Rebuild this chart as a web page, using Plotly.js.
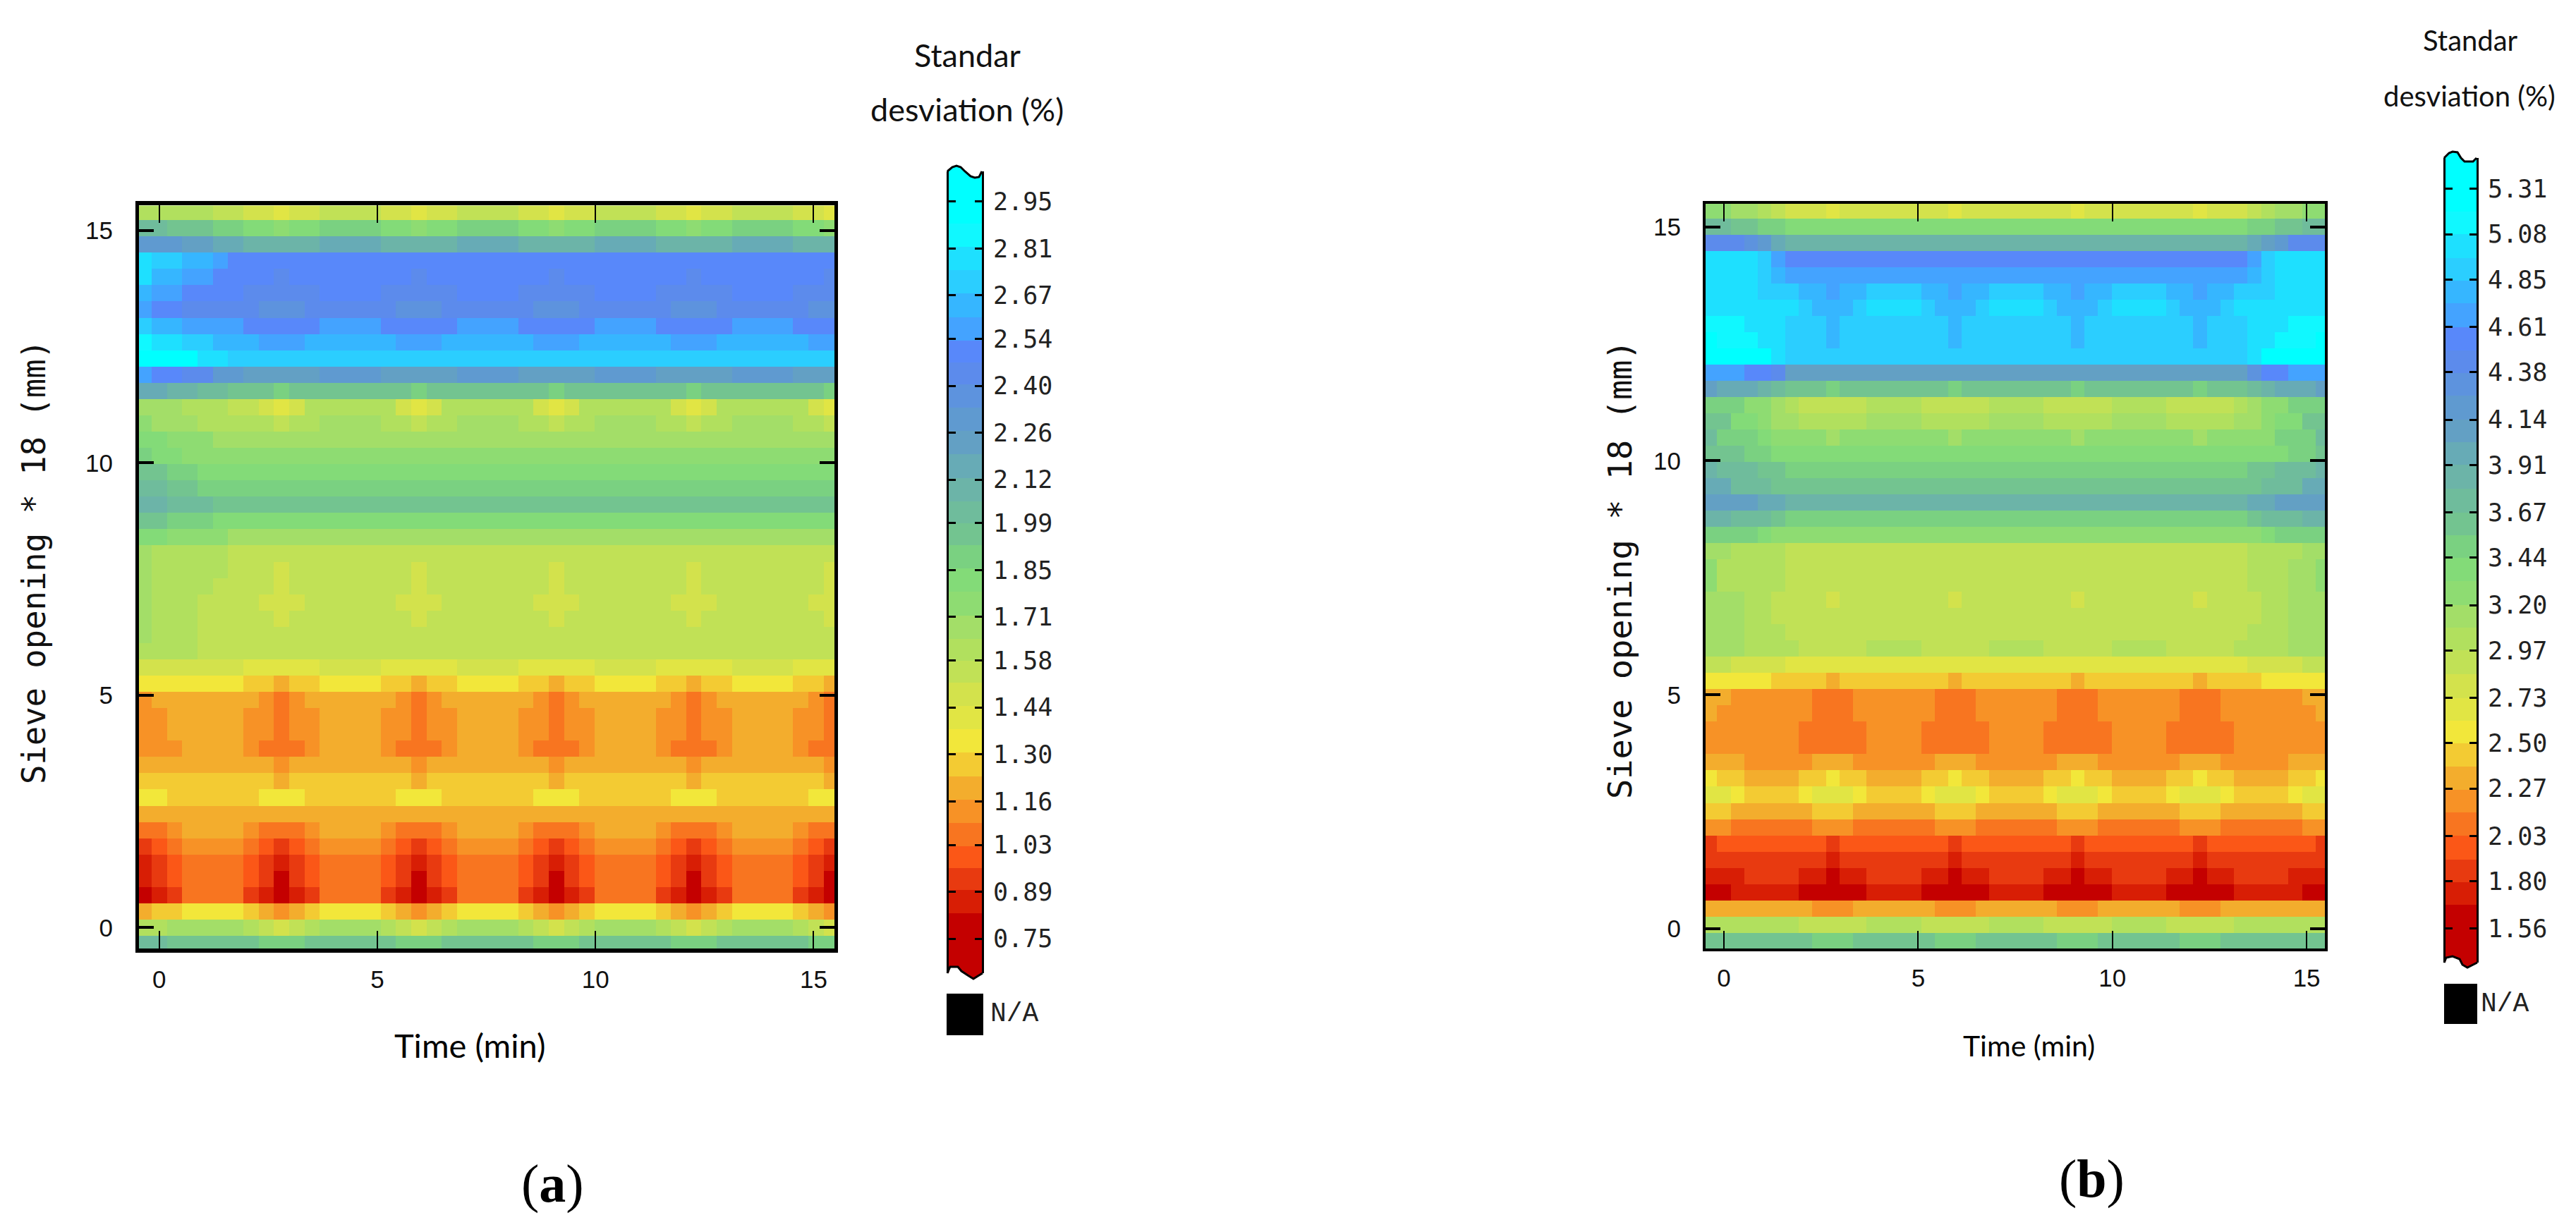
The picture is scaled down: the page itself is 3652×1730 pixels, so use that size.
<!DOCTYPE html>
<html>
<head>
<meta charset="utf-8">
<script src="https://cdn.plot.ly/plotly-3.0.1.min.js"></script>
<style>html,body{margin:0;padding:0;background:#fff}</style>
</head>
<body>
<div id="chart" style="width:3652px;height:1730px"></div>
<script>
// Colour bands of the scale, bottom to top (one letter per band in the grids below)
const bandKeys = "0123456789abcdefghijklmnopqrstuv";
const bandColors = ["#C40000","#D81E05","#E83A10","#FB5717","#F87520","#F79226","#F3AD2D","#F3CB33",
  "#F2E73A","#E1E544","#D3E24C","#C1E156","#B1E05E","#A3DE68","#8EDC72","#83DB78",
  "#7AD181","#73C490","#6FBC9C","#6CB4A8","#67ABB6","#63A0C4","#5F9AD0","#5D93DE",
  "#5C8BEC","#5888FA","#44A3FF","#36B6FF","#2BCEFF","#1EE0FF","#10F8FF","#00FFFF"];
// Standard deviation (%) at the middle of each band
const bandValuesA = [0.79,0.86,0.93,0.99,1.06,1.13,1.20,1.27,1.34,1.41,1.48,1.55,1.61,1.68,1.75,1.82,
  1.89,1.96,2.02,2.09,2.16,2.23,2.30,2.37,2.44,2.50,2.57,2.64,2.71,2.78,2.85,2.92];
const bandValuesB = [1.62,1.74,1.85,1.97,2.09,2.21,2.32,2.44,2.56,2.67,2.79,2.91,3.03,3.14,3.26,3.38,
  3.50,3.61,3.73,3.85,3.97,4.08,4.20,4.32,4.43,4.55,4.67,4.79,4.90,5.02,5.14,5.25];
const scaleTicksA = [0.75,0.89,1.03,1.16,1.30,1.44,1.58,1.71,1.85,1.99,2.12,2.26,2.40,2.54,2.67,2.81,2.95];
const scaleTicksB = [1.56,1.80,2.03,2.27,2.50,2.73,2.97,3.20,3.44,3.67,3.91,4.14,4.38,4.61,4.85,5.08,5.31];
const axisTicks = [0,5,10,15];

// Panel (a): one string per sieve row, top row first; one letter per time step
const gridA = [
"cccccbbaa9aabbbbaa9aabbbbaa9aabbbbaa9aabbbbaa9",
"iihhhggffeffggggffeffggggffeffggggffeffggggffe",
"mmmllkkjjjjjkkkkjjjjjkkkkjjjjjkkkkjjjjjkkkkjjj",
"tssrrqpppppppppppppppppppppppppppppppppppppppp",
"trrqqppppoppppppppoppppppppoppppppppoppppppppo",
"rqqppppoooooppppoooooppppoooooppppoooooppppooo",
"qppooooonnnoooooonnnoooooonnnoooooonnnoooooonn",
"srrqqqqpppppqqqqpppppqqqqpppppqqqqpppppqqqqppp",
"uttssrrrqqqrrrrrrqqqrrrrrrqqqrrrrrrqqqrrrrrrqq",
"vvvvttssssssssssssssssssssssssssssssssssssssss",
"qppoommlllllmmmmlllllmmmmlllllmmmmlllllmmmmlll",
"kkjjiihhhghhhhhhhhghhhhhhhhghhhhhhhhghhhhhhhhg",
"dddcccbba9acccccca9acccccca9acccccca9acccccca9",
"edddcccccbccddddccbccddddccbccddddccbccddddccb",
"ffeeeddddddddddddddddddddddddddddddddddddddddd",
"gffeeeeeeeeeeeeeeeeeeeeeeeeeeeeeeeeeeeeeeeeeee",
"hhggffffffffffffffffffffffffffffffffffffffffff",
"iihhgggggggggggggggggggggggggggggggggggggggggg",
"jjiiihhhhhhhhhhhhhhhhhhhhhhhhhhhhhhhhhhhhhhhhh",
"hhgggfffffffffffffffffffffffffffffffffffffffff",
"ffeeeedddddddddddddddddddddddddddddddddddddddd",
"dcccccbbbbbbbbbbbbbbbbbbbbbbbbbbbbbbbbbbbbbbbb",
"dcccccbbbabbbbbbbbabbbbbbbbabbbbbbbbabbbbbbbba",
"dccccbbbbabbbbbbbbabbbbbbbbabbbbbbbbabbbbbbbba",
"dcccbbbbaaabbbbbbaaabbbbbbaaabbbbbbaaabbbbbbaa",
"dcccbbbbbabbbbbbbbabbbbbbbbabbbbbbbbabbbbbbbba",
"dcccbbbbbbbbbbbbbbbbbbbbbbbbbbbbbbbbbbbbbbbbbb",
"ccccbbbbbbbbbbbbbbbbbbbbbbbbbbbbbbbbbbbbbbbbbb",
"aaaaaaa99999aaaa99999aaaa99999aaaa99999aaaa999",
"8888888776778888776778888776778888776778888776",
"5666666654566666654566666654566666654566666654",
"5566666554556666554556666554556666554556666554",
"5566666554556666554556666554556666554556666554",
"5556666544456666544456666544456666544456666544",
"6666666665666666665666666665666666665666666665",
"7777777776777777776777777776777777776777777776",
"8877777788877777788877777788877777788877777788",
"6666666666666666666666666666666666666666666666",
"4456666544456666544456666544456666544456666544",
"2345555432345555432345555432345555432345555432",
"1234444321234444321234444321234444321234444321",
"1234444320234444320234444320234444320234444320",
"0124444210124444210124444210124444210124444210",
"6778888765678888765678888765678888765678888765",
"ccdddddcbabcddddcbabcddddcbabcddddcbabcddddcba",
"iihhhhhhggghhhhhhggghhhhhhggghhhhhhggghhhhhhgg"
];

// Panel (b): same layout
const gridB = [
"eeddcbaaa9aaaaaaaa9aaaaaaaa9aaaaaaaa9aaabcddee",
"iihhggffffffffffffffffffffffffffffffffffgghhii",
"ooonmkjjjjjjjjjjjjjjjjjjjjjjjjjjjjjjjjjjklmooo",
"ttttsqppppppppppppppppppppppppppppppppppqstttt",
"ttttsrqqqqqqqqqqqqqqqqqqqqqqqqqqqqqqqqqqrstttt",
"ttttsssrrqrrssssrrqrrssssrrqrrssssrrqrrssstttt",
"tttttttsrrrsttttsrrrsttttsrrrsttttsrrrsttttttt",
"uuutttsssrssssssssrssssssssrssssssssrssstttuuu",
"vuuuttsssrssssssssrssssssssrssssssssrsssttuuuv",
"vvvvvtsssssssssssssssssssssssssssssssssstvvvvv",
"qqqppollllllllllllllllllllllllllllllllllnppqqq",
"lkkkjihhhghhhhhhhhghhhhhhhhghhhhhhhhghhhijkkkl",
"gggeedcbbbbbccccbbbbbccccbbbbbccccbbbbbcdeeggg",
"hhffeddcccccddddcccccddddcccccddddcccccddeffhh",
"igggfeeeedeeeeeeeedeeeeeeeedeeeeeeeedeeeeegggi",
"hhhggffffffffffffffffffffffffffffffffffffffggh",
"jiiihhgggggggggggggggggggggggggggggggggghhiiij",
"kkiiihhhhhhhhhhhhhhhhhhhhhhhhhhhhhhhhhhhhiiikk",
"llllkkjjjjjjjjjjjjjjjjjjjjjjjjjjjjjjjjjjkkllll",
"jjiiihgggggggggggggggggggggggggggggggggghiiijj",
"ggggfeeeeeeeeeeeeeeeeeeeeeeeeeeeeeeeeeeeefgggg",
"ddccccbbbbbbbbbbbbbbbbbbbbbbbbbbbbbbbbbbccccdd",
"ecccccbbbbbbbbbbbbbbbbbbbbbbbbbbbbbbbbbbcccdde",
"ecccccbbbbbbbbbbbbbbbbbbbbbbbbbbbbbbbbbbcccdde",
"dddccbbbbabbbbbbbbabbbbbbbbabbbbbbbbabbbbccddd",
"dddccbbbbbbbbbbbbbbbbbbbbbbbbbbbbbbbbbbbbccddd",
"dddcccbbbbbbbbbbbbbbbbbbbbbbbbbbbbbbbbbbcccddd",
"dddccccbbbbbccccbbbbbccccbbbbbccccbbbbbccccddd",
"bbaaaa9999999999999999999999999999999999aaaabb",
"8888877776777777776777777776777777776777788888",
"6655555544455555544455555544455555544455555566",
"6555555544455555544455555544455555544455555556",
"5555555444445555444445555444445555444445555555",
"5555555444445555444445555444445555444445555555",
"6665555566655555566655555566655555566655555666",
"8776666778776666778776666778776666778776666778",
"9987777899987777899987777899987777899987777899",
"7766666677766666677766666677766666677766666677",
"5544444455544444455544444455544444455544444455",
"2333333332333333332333333332333333332333333332",
"2222222221222222221222222221222222221222222222",
"1112222110112222110112222110112222110112222111",
"0011111000001111000001111000001111000001111100",
"6666666655566666655566666655566666655566666666",
"cccccccbbbbbccccbbbbbccccbbbbbccccbbbbbccccccc",
"hhhhhhhhggghhhhhhggghhhhhhggghhhhhhggghhhhhhhh"
];

const W = 3652, H = 1730;

function toZ(grid, values) {
  return grid.slice().reverse().map(function (row) {
    if (row.length !== 46) throw new Error("bad row length " + row.length + ": " + row);
    return row.split("").map(function (c) { return values[bandKeys.indexOf(c)]; });
  });
}
function bandEdges(values, lo, hi) {
  const e = [lo];
  for (let i = 0; i + 1 < values.length; i++) e.push((values[i] + values[i + 1]) / 2);
  e.push(hi);
  return e;
}
function discreteScale(edges, lo, hi) {
  const s = [];
  bandColors.forEach(function (c, i) {
    s.push([(edges[i] - lo) / (hi - lo), c]);
    s.push([(edges[i + 1] - lo) / (hi - lo), c]);
  });
  return s;
}
const px = function (x) { return x / W; };
const py = function (y) { return 1 - y / H; };
function domX(a, b) { return [px(a), px(b)]; }
function domY(top, bottom) { return [py(bottom), py(top)]; }
function polygon(points, close) {
  return points.map(function (p, i) {
    return (i ? "L" : "M") + px(p[0]) + "," + py(p[1]);
  }).join(" ") + (close ? " Z" : "");
}
function pathShape(points, fill, lineWidth) {
  return {type: "path", xref: "paper", yref: "paper", layer: "above",
    path: polygon(points, !!fill), fillcolor: fill || "rgba(0,0,0,0)",
    line: {color: "#000", width: lineWidth || 0}};
}
function label(text, x, y, font, extra) {
  return Object.assign({xref: "paper", yref: "paper", x: px(x), y: py(y), text: text,
    showarrow: false, xanchor: "center", yanchor: "middle", font: font}, extra || {});
}

const loA = 0.647, hiA = 3.04, loB = 1.388, hiB = 5.466;
const edgesA = bandEdges(bandValuesA, loA, hiA), edgesB = bandEdges(bandValuesB, loB, hiB);
const csA = discreteScale(edgesA, loA, hiA), csB = discreteScale(edgesB, loB, hiB);

const traces = [
  {type: "heatmap", z: toZ(gridA, bandValuesA), x0: -0.35, dx: 0.35, y0: -0.35, dy: 0.35,
   zmin: loA, zmax: hiA, colorscale: csA, showscale: false, zsmooth: false, xaxis: "x", yaxis: "y"},
  {type: "heatmap", z: toZ(gridB, bandValuesB), x0: -0.35, dx: 0.35, y0: -0.264, dy: 0.347,
   zmin: loB, zmax: hiB, colorscale: csB, showscale: false, zsmooth: false, xaxis: "x2", yaxis: "y2"},
  {type: "heatmap", z: bandValuesA.map(function (v) { return [v]; }), x: [0, 1], y: edgesA,
   zmin: loA, zmax: hiA, colorscale: csA, showscale: false, zsmooth: false, xaxis: "x3", yaxis: "y3"},
  {type: "heatmap", z: bandValuesB.map(function (v) { return [v]; }), x: [0, 1], y: edgesB,
   zmin: loB, zmax: hiB, colorscale: csB, showscale: false, zsmooth: false, xaxis: "x4", yaxis: "y4"}
];

const tickFont = {family: "Liberation Sans", size: 35, color: "#111"};
const monoFont = {family: "DejaVu Sans Mono", size: 35, color: "#222"};
const naFont = {family: "Liberation Mono", size: 38, color: "#222"};
const sideFontA = {family: "DejaVu Sans Mono", size: 45.5, color: "#111"};
const sideFontB = {family: "DejaVu Sans Mono", size: 47, color: "#111"};
const capFont = {family: "Liberation Serif", size: 76, color: "#000"};

function mainX(dom, range, anchor, lw) {
  return {domain: dom, range: range, anchor: anchor, tickmode: "array", tickvals: axisTicks,
    ticktext: axisTicks.map(String), ticks: "inside", ticklen: 25, tickwidth: 2, tickcolor: "#000",
    showline: true, linecolor: "#000", linewidth: lw, mirror: "ticks", showgrid: false, zeroline: false,
    tickfont: tickFont, ticklabelstandoff: 8};
}
function mainY(dom, range, anchor, lw, standoff) {
  return {domain: dom, range: range, anchor: anchor, tickmode: "array", tickvals: axisTicks,
    ticktext: axisTicks.map(String), ticks: "inside", ticklen: 21, tickwidth: 4, tickcolor: "#000",
    showline: true, linecolor: "#000", linewidth: lw, mirror: "ticks", showgrid: false, zeroline: false,
    tickfont: tickFont, ticklabelstandoff: standoff};
}
function stripX(dom, anchor) {
  return {domain: dom, range: [0, 1], anchor: anchor, visible: false, fixedrange: true};
}
function stripY(dom, range, anchor, ticks) {
  return {domain: dom, range: range, anchor: anchor, side: "right", tickmode: "array", tickvals: ticks,
    ticktext: ticks.map(function (t) { return t.toFixed(2); }), ticks: "inside", ticklen: 10, tickwidth: 3,
    tickcolor: "#000", showline: true, linecolor: "#000", linewidth: 3, mirror: "ticks",
    showgrid: false, zeroline: false, tickfont: monoFont, ticklabelstandoff: 6};
}

const layout = {
  width: W, height: H, margin: {l: 0, r: 0, t: 0, b: 0}, paper_bgcolor: "#fff", plot_bgcolor: "#fff",
  showlegend: false,
  xaxis: mainX(domX(197, 1183), [-0.466, 15.478], "y", 6),
  yaxis: mainY(domY(291.4, 1345), [-0.45, 15.54], "x", 5, 25),
  xaxis2: mainX(domX(2418, 3296), [-0.472, 15.47], "y2", 4),
  yaxis2: mainY(domY(289, 1345), [-0.42, 15.49], "x2", 4, 24),
  xaxis3: stripX(domX(1345, 1392), "y3"),
  yaxis3: stripY(domY(243, 1380), [loA, hiA], "x3", scaleTicksA),
  xaxis4: stripX(domX(3467, 3511), "y4"),
  yaxis4: stripY(domY(224, 1365), [loB, hiB], "x4", scaleTicksB),
  shapes: [
    // torn ends of the scale bar (a)
    pathShape([[1345,243],[1350,237],[1356,235],[1362,237],[1368,243]], "#00FFFF"),
    pathShape([[1368,243],[1376,250],[1382,252],[1388,251],[1392,243]], "#FFFFFF"),
    pathShape([[1343,243],[1350,237],[1356,235],[1362,237],[1368,243],[1376,250],[1382,252],[1388,251],[1392,243]], null, 3),
    pathShape([[1345,1380],[1347,1371],[1358,1371],[1363,1377],[1367,1380]], "#FFFFFF"),
    pathShape([[1367,1380],[1372,1383],[1380,1388],[1388,1383],[1392,1380]], "#C40000"),
    pathShape([[1343,1380],[1347,1371],[1358,1371],[1363,1377],[1372,1383],[1380,1388],[1388,1383],[1393,1380]], null, 3),
    // torn ends of the scale bar (b)
    pathShape([[3467,224],[3472,217],[3477,215],[3484,216],[3489,224]], "#00FFFF"),
    pathShape([[3489,224],[3494,229],[3506,229],[3511,224]], "#FFFFFF"),
    pathShape([[3465,224],[3472,217],[3477,215],[3484,216],[3489,224],[3494,229],[3506,229],[3511,224]], null, 3),
    pathShape([[3467,1365],[3468,1358],[3477,1356],[3487,1360],[3489,1365]], "#FFFFFF"),
    pathShape([[3489,1365],[3491,1368],[3498,1372],[3506,1368],[3511,1365]], "#C40000"),
    pathShape([[3465,1365],[3468,1358],[3477,1356],[3487,1360],[3491,1368],[3498,1372],[3506,1368],[3512,1365]], null, 3),
    // N/A swatches
    {type: "rect", xref: "paper", yref: "paper", x0: px(1342), x1: px(1394), y0: py(1468), y1: py(1409),
     fillcolor: "#000", line: {width: 0}},
    {type: "rect", xref: "paper", yref: "paper", x0: px(3465), x1: px(3512), y0: py(1452), y1: py(1395),
     fillcolor: "#000", line: {width: 0}}
  ],
  annotations: [
    label("Time (min)", 666, 1482, {family: "Lato", size: 47, color: "#000"}),
    label("Time (min)", 2876, 1482, {family: "Lato", size: 41, color: "#000"}),
    label("Sieve opening * 18 (mm)", 48, 797, sideFontA, {textangle: -90}),
    label("Sieve opening * 18 (mm)", 2296, 808, sideFontB, {textangle: -90}),
    label("Standar", 1372, 78, {family: "Lato", size: 45, color: "#111"}),
    label("desviation (%)", 1371, 155, {family: "Lato", size: 45, color: "#111"}),
    label("Standar", 3502, 57, {family: "Lato", size: 40, color: "#111"}),
    label("desviation (%)", 3501, 136, {family: "Lato", size: 40, color: "#111"}),
    label("N/A", 1438, 1437, naFont),
    label("N/A", 3551, 1423, naFont),
    label("(<b>a</b>)", 783, 1678, capFont),
    label("(<b>b</b>)", 2965, 1671, capFont)
  ]
};

Plotly.newPlot("chart", traces, layout, {displayModeBar: false, staticPlot: true});
</script>
</body>
</html>
